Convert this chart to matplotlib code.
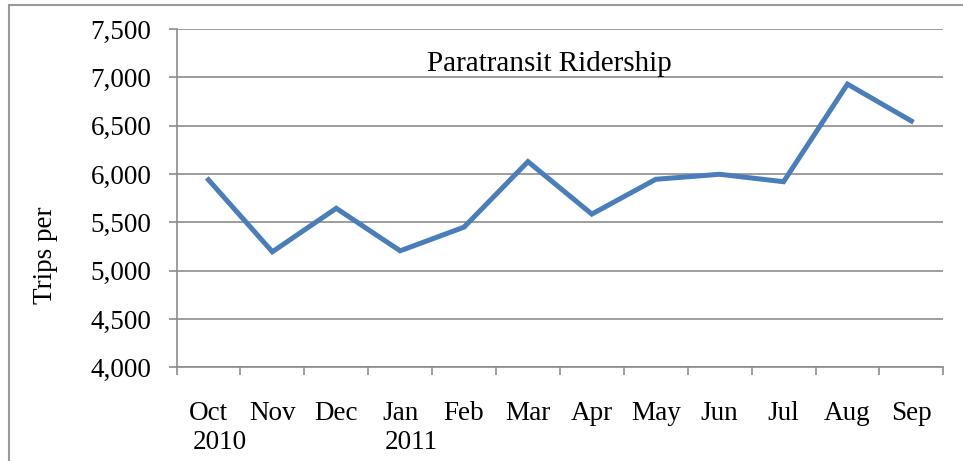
import matplotlib
matplotlib.use("Agg")
import matplotlib.pyplot as plt
from matplotlib.patches import Rectangle
from matplotlib.transforms import blended_transform_factory

months = ["Oct", "Nov", "Dec", "Jan", "Feb", "Mar", "Apr", "May", "Jun", "Jul", "Aug", "Sep"]
years = {0: "2010", 3: "2011"}
trips = [5940, 5195, 5645, 5205, 5450, 6128, 5585, 5945, 5997, 5920, 6930, 6548]
yticks = [4000, 4500, 5000, 5500, 6000, 6500, 7000, 7500]

W, H = 963, 461
fig = plt.figure(figsize=(W / 100, H / 100), dpi=100)
plt.rcParams['font.family'] = ['Liberation Serif', 'DejaVu Serif']

ax = fig.add_axes([176.5 / W, 1 - 367.3 / H, (943.3 - 176.5) / W, (367.3 - 29) / H])

x = list(range(len(months)))
ax.plot(x, trips, color="#4A7EBB", lw=3.6, solid_joinstyle="miter", zorder=3)

ax.set_xlim(-0.5, len(months) - 0.5)
ax.set_ylim(4000, 7500)
ax.set_yticks(yticks)
ax.set_yticklabels([f"{v:,}" for v in yticks], fontsize=19.5)
ax.yaxis.grid(True, color="#8C8C8C", lw=1.2)
ax.set_axisbelow(True)

ax.set_xticks([i - 0.5 for i in range(len(months) + 1)])
ax.set_xticklabels([])
ax.set_xticks(x, minor=True)
ax.set_xticklabels(months, minor=True, fontsize=19.5)
ax.tick_params(axis="x", which="minor", length=0, pad=24.5)
ax.tick_params(axis="x", which="major", length=6, color="#8C8C8C", width=1.2)
ax.tick_params(axis="y", length=6, color="#8C8C8C", width=1.2, pad=12)

for s in ["top", "right"]:
    ax.spines[s].set_visible(False)
for s in ["left", "bottom"]:
    ax.spines[s].set_color("#8C8C8C")
    ax.spines[s].set_linewidth(1.2)

tr = blended_transform_factory(ax.transData, fig.transFigure)
for i, yr in years.items():
    ax.text(i + 0.17, 1 - 442 / H, yr, transform=tr, ha="center", va="center", fontsize=19.5)

fig.text(549 / W, 1 - 64 / H, "Paratransit Ridership", ha="center", va="center", fontsize=21)
fig.text(45 / W, 1 - 255 / H, "Trips per", rotation=90, ha="center", va="center", fontsize=19.5)

fig.patches.append(Rectangle((8.5 / W, -0.05), 1.0, 1 - 5.5 / H + 0.05, transform=fig.transFigure,
                             fill=False, edgecolor="#9A9A9A", lw=1.5))

fig.savefig("out.png", dpi=100)
